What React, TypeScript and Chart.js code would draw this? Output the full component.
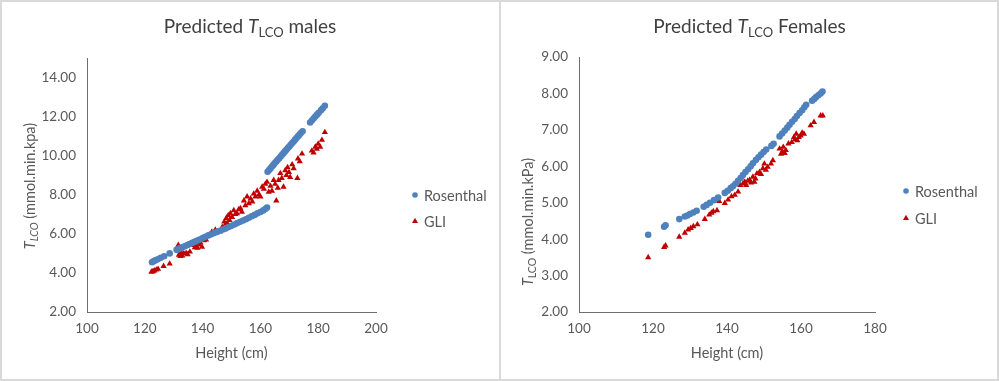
import React, { useEffect, useRef } from "react";
import { Chart, registerables } from "chart.js";

Chart.register(...registerables);

// ---------- DATA ----------
const maleRosHeight = [122.5, 123.0, 123.6, 124.5, 125.5, 126.7, 128.6, 131.0, 131.8, 132.5, 133.2, 134.0, 134.8, 135.5, 136.3, 137.0, 137.8, 138.6, 139.4, 140.2, 141.0, 142.0, 143.0, 144.0, 145.0, 146.0, 147.0, 148.0, 149.0, 150.0, 151.0, 152.0, 153.0, 154.0, 155.0, 156.0, 157.0, 158.0, 159.0, 160.0, 161.0, 161.8, 162.3, 162.5, 163.0, 163.5, 164.0, 164.5, 165.0, 165.5, 166.0, 166.5, 167.0, 167.5, 168.0, 168.5, 169.0, 169.5, 170.0, 170.5, 171.0, 171.5, 172.0, 172.5, 173.0, 173.5, 174.0, 174.6, 177.2, 177.8, 178.4, 179.0, 179.6, 180.2, 181.0, 181.6, 182.3];
const maleRos = [4.55, 4.60, 4.64, 4.70, 4.78, 4.85, 5.00, 5.18, 5.23, 5.28, 5.33, 5.38, 5.43, 5.48, 5.53, 5.58, 5.63, 5.68, 5.74, 5.80, 5.85, 5.92, 5.98, 6.04, 6.10, 6.16, 6.22, 6.28, 6.35, 6.41, 6.48, 6.55, 6.62, 6.68, 6.75, 6.82, 6.90, 6.97, 7.05, 7.12, 7.20, 7.28, 7.35, 9.18, 9.27, 9.35, 9.45, 9.53, 9.62, 9.70, 9.79, 9.87, 9.96, 10.05, 10.13, 10.22, 10.30, 10.39, 10.47, 10.56, 10.65, 10.73, 10.82, 10.90, 10.99, 11.07, 11.16, 11.25, 11.70, 11.80, 11.90, 12.00, 12.10, 12.20, 12.33, 12.43, 12.55];

const maleGliHeight = [122.3, 122.8, 123.3, 124.0, 124.6, 126.5, 128.6, 131.6, 131.8, 132.3, 132.6, 133.0, 133.5, 134.3, 134.8, 135.6, 136.9, 137.3, 137.8, 138.2, 138.8, 139.2, 139.8, 140.5, 141.2, 142.0, 142.6, 143.2, 143.8, 144.4, 145.2, 146.1, 146.8, 147.2, 147.5, 147.8, 148.2, 148.5, 148.9, 149.3, 149.6, 150.2, 150.8, 151.3, 151.9, 152.5, 153.1, 153.6, 154.3, 154.8, 155.4, 156.0, 156.6, 157.2, 157.7, 158.3, 158.9, 159.5, 160.0, 160.6, 161.2, 161.7, 162.3, 162.9, 163.5, 164.0, 164.6, 165.1, 165.5, 166.0, 166.3, 166.9, 167.4, 168.0, 168.6, 169.0, 169.4, 169.9, 170.3, 171.0, 171.5, 172.8, 173.0, 173.6, 174.4, 177.8, 178.4, 179.0, 179.5, 180.0, 180.7, 181.3, 182.3];
const maleGli = [4.05, 4.08, 4.12, 4.16, 4.20, 4.35, 4.47, 5.42, 4.92, 4.85, 5.05, 4.88, 5.00, 5.02, 4.95, 5.08, 5.42, 5.30, 5.38, 5.28, 5.45, 5.55, 5.33, 5.66, 5.70, 5.92, 5.98, 6.10, 6.05, 6.20, 6.10, 6.12, 6.35, 6.22, 6.62, 6.45, 6.80, 6.55, 6.95, 6.70, 7.05, 6.85, 7.20, 7.00, 7.05, 7.25, 7.30, 7.12, 7.70, 7.45, 7.90, 7.56, 7.80, 7.65, 8.05, 7.90, 8.20, 8.00, 7.90, 8.40, 8.30, 8.55, 8.65, 8.15, 8.45, 8.20, 8.75, 8.55, 7.70, 8.35, 8.75, 9.10, 8.85, 8.40, 9.25, 9.00, 9.40, 9.15, 8.90, 9.55, 9.35, 8.85, 9.85, 9.70, 10.10, 10.25, 10.15, 10.45, 10.35, 10.60, 10.45, 10.80, 11.20];

const femaleRosHeight = [118.7, 123.0, 123.4, 127.1, 128.6, 129.3, 130.0, 130.9, 131.8, 133.7, 134.5, 135.4, 136.5, 137.6, 139.4, 140.2, 141.0, 141.6, 142.3, 143.0, 143.7, 144.3, 145.0, 145.7, 146.4, 147.0, 147.8, 148.5, 149.2, 149.9, 150.6, 152.0, 152.6, 154.2, 154.9, 155.6, 156.3, 156.9, 157.6, 158.3, 158.9, 159.6, 160.3, 160.9, 161.4, 163.0, 163.6, 164.1, 164.7, 165.3, 165.8];
const femaleRos = [4.12, 4.34, 4.38, 4.55, 4.62, 4.65, 4.69, 4.73, 4.78, 4.89, 4.94, 5.00, 5.07, 5.14, 5.27, 5.33, 5.40, 5.45, 5.52, 5.60, 5.68, 5.76, 5.84, 5.92, 6.00, 6.08, 6.17, 6.25, 6.32, 6.39, 6.46, 6.56, 6.62, 6.82, 6.90, 6.98, 7.06, 7.14, 7.22, 7.30, 7.38, 7.46, 7.54, 7.62, 7.69, 7.80, 7.85, 7.90, 7.95, 8.00, 8.05];

const femaleGliHeight = [118.7, 123.0, 123.4, 127.1, 128.6, 129.5, 130.2, 130.9, 132.0, 134.0, 135.2, 135.8, 136.3, 137.3, 137.9, 139.4, 140.3, 141.2, 142.1, 143.0, 143.6, 144.3, 144.8, 145.2, 145.6, 146.1, 146.5, 147.0, 147.4, 147.7, 148.1, 148.8, 149.2, 149.7, 150.1, 150.5, 151.0, 151.9, 152.4, 154.2, 154.6, 155.0, 155.2, 155.6, 155.9, 156.6, 157.5, 158.1, 158.4, 158.7, 159.0, 159.4, 159.9, 160.3, 160.8, 162.6, 163.5, 165.3, 165.9];
const femaleGli = [3.50, 3.78, 3.82, 4.06, 4.17, 4.26, 4.30, 4.35, 4.40, 4.55, 4.67, 4.72, 4.76, 4.79, 5.04, 4.99, 5.08, 5.17, 5.21, 5.30, 5.48, 5.52, 5.57, 5.48, 5.60, 5.62, 5.55, 5.71, 5.57, 5.66, 5.80, 5.84, 5.78, 5.94, 6.07, 5.90, 5.98, 6.07, 6.16, 6.48, 6.34, 6.40, 6.53, 6.36, 6.44, 6.62, 6.66, 6.80, 6.74, 6.89, 6.71, 6.80, 6.84, 6.92, 6.89, 7.12, 7.21, 7.39, 7.39];

const maleXTicks = [100, 120, 140, 160, 180, 200];
const maleYTicks = [2, 4, 6, 8, 10, 12, 14];
const femaleXTicks = [100, 120, 140, 160, 180];
const femaleYTicks = [2, 3, 4, 5, 6, 7, 8, 9];

const seriesNames = ["Rosenthal", "GLI"];

// ---------- STYLE ----------
const FONT = "Lato, 'Open Sans', sans-serif";
const BLUE = "#4f81bd";
const RED = "#c00000";
const GRAY = "#595959";
const AXIS = "#6e6e6e";

type Run = { t: string; size: number; italic?: boolean; dy?: number };

function drawRuns(ctx: CanvasRenderingContext2D, runs: Run[], cx: number, cy: number, color: string) {
  ctx.save();
  ctx.fillStyle = color;
  ctx.textBaseline = "alphabetic";
  ctx.textAlign = "left";
  let total = 0;
  const widths = runs.map((r) => {
    ctx.font = `${r.italic ? "italic " : ""}${r.size}px ${FONT}`;
    const w = ctx.measureText(r.t).width;
    total += w;
    return w;
  });
  let x = cx - total / 2;
  runs.forEach((r, i) => {
    ctx.font = `${r.italic ? "italic " : ""}${r.size}px ${FONT}`;
    ctx.fillText(r.t, x, cy + (r.dy || 0));
    x += widths[i];
  });
  ctx.restore();
}

type PanelCfg = {
  titleRuns: Run[];
  yTitleRuns: Run[];
  yTitleX: number;
  yTitleY: number;
  legendX: number;
  legendY: number[];
};

function makePlugin(cfg: PanelCfg) {
  return {
    id: "customText",
    afterDraw(chart: any) {
      const ctx = chart.ctx as CanvasRenderingContext2D;
      const ca = chart.chartArea;
      // Title
      drawRuns(ctx, cfg.titleRuns, chart.width / 2, 33, "#404040");
      // X title
      drawRuns(ctx, [{ t: "Height (cm)", size: 14.5 }], (ca.left + ca.right) / 2, 358, GRAY);
      // Y title (rotated)
      ctx.save();
      ctx.translate(cfg.yTitleX, cfg.yTitleY);
      ctx.rotate(-Math.PI / 2);
      drawRuns(ctx, cfg.yTitleRuns, 0, 5, GRAY);
      ctx.restore();
      // Legend
      const colors = [BLUE, RED];
      ctx.save();
      seriesNames.forEach((name, i) => {
        const y = cfg.legendY[i];
        ctx.fillStyle = colors[i];
        ctx.beginPath();
        if (i === 0) {
          ctx.arc(cfg.legendX, y, 2.8, 0, Math.PI * 2);
        } else {
          ctx.moveTo(cfg.legendX, y - 3.2);
          ctx.lineTo(cfg.legendX + 3, y + 2);
          ctx.lineTo(cfg.legendX - 3, y + 2);
          ctx.closePath();
        }
        ctx.fill();
        ctx.fillStyle = GRAY;
        ctx.font = `14.5px ${FONT}`;
        ctx.textBaseline = "middle";
        ctx.textAlign = "left";
        ctx.fillText(name, cfg.legendX + 9, y + 1);
      });
      ctx.restore();
    },
  };
}

function buildConfig(
  rosH: number[], ros: number[], gliH: number[], gli: number[],
  xTicks: number[], yTicks: number[], xMin: number, xMax: number, yMin: number, yMax: number,
  padding: any, cfg: PanelCfg
): any {
  return {
    type: "scatter",
    data: {
      datasets: [
        {
          label: seriesNames[0],
          data: rosH.map((h, i) => ({ x: h, y: ros[i] })),
          pointStyle: "circle",
          pointRadius: 3.3,
          backgroundColor: BLUE,
          borderColor: BLUE,
          borderWidth: 0,
        },
        {
          label: seriesNames[1],
          data: gliH.map((h, i) => ({ x: h, y: gli[i] })),
          pointStyle: "triangle",
          pointRadius: 3.6,
          backgroundColor: RED,
          borderColor: RED,
          borderWidth: 0,
        },
      ],
    },
    options: {
      responsive: false,
      animation: false,
      devicePixelRatio: 1,
      layout: { padding },
      plugins: { legend: { display: false }, title: { display: false }, tooltip: { enabled: false } },
      scales: {
        x: {
          type: "linear",
          min: xMin,
          max: xMax,
          afterFit: (s: any) => { s.height = 30; },
          afterBuildTicks: (s: any) => { s.ticks = xTicks.map((v) => ({ value: v })); },
          grid: { display: false, drawTicks: false },
          border: { display: true, color: AXIS, width: 1 },
          ticks: { color: GRAY, font: { family: FONT, size: 13.5 }, padding: 9, callback: (v: any) => String(v) },
        },
        y: {
          type: "linear",
          min: yMin,
          max: yMax,
          afterFit: (s: any) => { s.width = 52; },
          afterBuildTicks: (s: any) => { s.ticks = yTicks.map((v) => ({ value: v })); },
          grid: { display: false, drawTicks: false },
          border: { display: true, color: AXIS, width: 1 },
          ticks: { color: GRAY, font: { family: FONT, size: 13.5 }, padding: 11, callback: (v: any) => Number(v).toFixed(2) },
        },
      },
    },
    plugins: [makePlugin(cfg)],
  };
}

function Panel(props: { width: number; left: number; config: any }) {
  const ref = useRef<HTMLCanvasElement | null>(null);
  useEffect(() => {
    if (!ref.current) return;
    const chart = new Chart(ref.current, props.config);
    return () => chart.destroy();
  }, []);
  return (
    <canvas
      ref={ref}
      width={props.width}
      height={381}
      style={{ position: "absolute", left: props.left, top: 0, width: props.width, height: 381 }}
    />
  );
}

export default function App() {
  const maleCfg = buildConfig(
    maleRosHeight, maleRos, maleGliHeight, maleGli,
    maleXTicks, maleYTicks, 100, 200, 2, 15,
    { left: 35, top: 58, right: 124, bottom: 39 },
    {
      titleRuns: [
        { t: "Predicted ", size: 19 },
        { t: "T", size: 19, italic: true },
        { t: "LCO", size: 13, dy: 4 },
        { t: " males", size: 19 },
      ],
      yTitleRuns: [
        { t: "T", size: 14.5, italic: true },
        { t: "LCO", size: 10.5, italic: true, dy: 3 },
        { t: " (mmol.min.kpa)", size: 14.5 },
      ],
      yTitleX: 30,
      yTitleY: 186,
      legendX: 415,
      legendY: [195, 221],
    }
  );
  const femaleCfg = buildConfig(
    femaleRosHeight, femaleRos, femaleGliHeight, femaleGli,
    femaleXTicks, femaleYTicks, 100, 180, 2, 9,
    { left: 27, top: 57, right: 124, bottom: 39 },
    {
      titleRuns: [
        { t: "Predicted ", size: 19 },
        { t: "T", size: 19, italic: true },
        { t: "LCO", size: 13, dy: 4 },
        { t: " Females", size: 19 },
      ],
      yTitleRuns: [
        { t: "T", size: 14.5, italic: true },
        { t: "LCO", size: 10.5, dy: 3 },
        { t: " (mmol.min.kPa)", size: 14.5 },
      ],
      yTitleX: 28,
      yTitleY: 222,
      legendX: 406,
      legendY: [191, 218],
    }
  );
  return (
    <div style={{ position: "absolute", left: 0, top: 0, width: 999, height: 381, background: "#fff", overflow: "hidden" }}>
      <Panel width={500} left={0} config={maleCfg} />
      <Panel width={499} left={500} config={femaleCfg} />
      <div style={{ position: "absolute", left: 0, top: 0, width: 999, height: 381, boxSizing: "border-box", border: "2px solid #d9d9d9", pointerEvents: "none" }} />
      <div style={{ position: "absolute", left: 499, top: 0, width: 2, height: 381, background: "#d9d9d9", pointerEvents: "none" }} />
    </div>
  );
}
